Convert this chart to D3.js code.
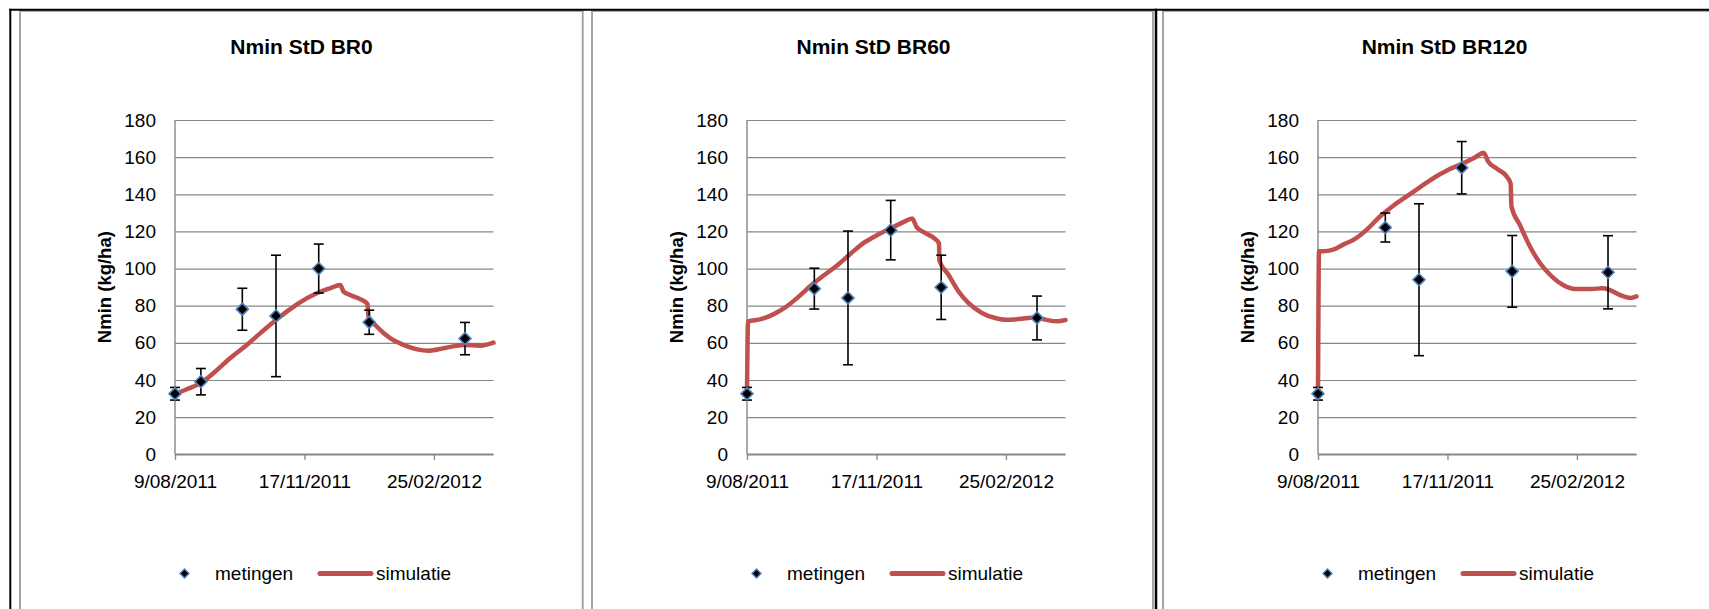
<!DOCTYPE html>
<html>
<head>
<meta charset="utf-8">
<script src="https://cdn.jsdelivr.net/npm/d3@7"></script>
<style>
  html, body { margin: 0; padding: 0; background: #ffffff; }
  svg { display: block; font-family: "Liberation Sans", Arial, sans-serif; }
</style>
</head>
<body>
<svg id="chart" width="1709" height="609"></svg>
<script>
// ---- data ----------------------------------------------------------------
const startDate = "2011-08-09";
const endDate = "2012-04-11";
const xTickDates = ["2011-08-09", "2011-11-17", "2012-02-25"];
const yTicks = [0, 20, 40, 60, 80, 100, 120, 140, 160, 180];

const panelTitles = ["Nmin StD BR0", "Nmin StD BR60", "Nmin StD BR120"];
const legendLabels = ["metingen", "simulatie"];
const yAxisTitle = "Nmin (kg/ha)";

// sampling dates of the soil measurements
const measDates = ["2011-08-09", "2011-08-29", "2011-09-30", "2011-10-26",
                   "2011-11-28", "2012-01-06", "2012-03-20"];

// measured Nmin (kg/ha) and standard deviation per treatment
const measBR0   = [32.6, 39.1, 78.1, 74.5, 100.0, 71.1, 62.3];
const errBR0    = [3.4, 7.1, 11.3, 32.7, 13.2, 6.5, 8.7];
const measBR60  = [32.6, null, 89.2, 84.2, 120.7, 89.9, 73.4];
const errBR60   = [3.4, null, 11.0, 36.0, 16.0, 17.3, 11.8];
const measBR120 = [32.6, null, 122.1, 94.0, 154.3, 98.5, 98.0];
const errBR120  = [3.4, null, 7.8, 40.9, 14.1, 19.3, 19.7];

// simulated Nmin: days after 9/08/2011 and value (kg/ha)
const simDaysBR0 = [0, 9, 19.3, 29.6, 42.5, 55.4, 65.7, 78, 86.3, 95.4, 109.5, 119.8,
                    127.6, 130.2, 135.3, 144.3, 148.7, 149.5, 156, 166.2, 176.5, 186.9,
                    195.9, 207.5, 222.9, 235.8, 246];
const simBR0 = [32.5, 35, 38.2, 43.6, 51.7, 58.9, 65.1, 72.3, 76.8, 81.3, 86.7, 89.4,
                91.2, 87.6, 85.8, 83.1, 80.9, 74.1, 68.7, 62.5, 58.9, 56.5,
                55.8, 57.1, 58.9, 58.5, 60.1];

const simDaysBR60 = [0, 0.8, 3.1, 10.9, 19.9, 29, 39.3, 49.6, 60, 70.3, 80.6, 91, 101.3,
                     111.6, 120.7, 127.6, 131, 137.5, 145.2, 148.3, 148.6, 155.6, 163.3,
                     171, 181.4, 191.7, 199.5, 209.8, 222.7, 230.5, 239.5, 246];
const simBR60 = [32.5, 71.6, 71.9, 72.8, 75.2, 78.8, 84.5, 91, 96.7, 102.1, 108.4, 114.2, 118.3,
                 121.9, 125, 127, 122.3, 119.2, 116, 113.5, 104.3, 96.7, 87.8,
                 81.5, 76.1, 73.4, 72.5, 72.8, 73.7, 72.5, 71.6, 72.3];

const simDaysBR120 = [0, 0.8, 3.9, 11.7, 19.5, 28.6, 37.7, 48.1, 58.4, 68.8, 79.2, 89.6, 100,
                      110.4, 120.8, 128, 131.2, 139, 145.5, 148.8, 149.4, 155.8, 163.6,
                      171.4, 180.5, 189.6, 198.7, 211.7, 219.5, 224.7, 232.5, 241.6, 246];
const simBR120 = [32.5, 109.3, 109.3, 110.2, 112.9, 116, 121, 128.2, 134, 139, 144, 148.9, 153,
                  156.1, 159.7, 162.4, 157.9, 153.4, 149.8, 145.8, 133.6, 123.7, 112,
                  103, 95.8, 91, 89, 89, 89.4, 88.7, 86, 84.2, 85];

// ---- layout --------------------------------------------------------------
const panelLefts = [20, 592, 1163];
const panelWidths = [562.7, 561, 563];
const plot = { left: 155, right: 473.5, top: 120, bottom: 454.3 };

const parseDate = d3.utcParse("%Y-%m-%d");
const fmtDate = d3.utcFormat("%-d/%m/%Y");
const t0 = parseDate(startDate);
const DAY = 864e5;

const panels = [
  { title: panelTitles[0], meas: measBR0, err: errBR0, simDays: simDaysBR0, sim: simBR0 },
  { title: panelTitles[1], meas: measBR60, err: errBR60, simDays: simDaysBR60, sim: simBR60 },
  { title: panelTitles[2], meas: measBR120, err: errBR120, simDays: simDaysBR120, sim: simBR120 }
];

const svg = d3.select("#chart");
const gridColor = "#878787";
const lineColor = "#C0504D";
const markerStroke = "#4F81BD";

const x = d3.scaleUtc()
  .domain([t0, parseDate(endDate)])
  .range([plot.left, plot.right]);
const y = d3.scaleLinear()
  .domain([0, 180])
  .range([plot.bottom, plot.top]);

const diamond = d3.symbol().type(d3.symbolSquare).size(72)();

panels.forEach((p, i) => {
  const g = svg.append("g").attr("transform", `translate(${panelLefts[i]},0)`);

  // chart area border
  g.append("rect")
    .attr("x", 0).attr("y", 11)
    .attr("width", panelWidths[i]).attr("height", 700)
    .attr("fill", "#ffffff")
    .attr("stroke", "#9c9c9c")
    .attr("stroke-width", 1.8);

  // title
  g.append("text")
    .attr("x", 281.5).attr("y", 53.5)
    .attr("text-anchor", "middle")
    .attr("font-size", 21).attr("font-weight", "bold")
    .attr("fill", "#000")
    .text(p.title);

  // y axis with horizontal gridlines
  const yAxis = g.append("g")
    .attr("transform", `translate(${plot.left},0)`)
    .call(d3.axisLeft(y).tickValues(yTicks).tickSize(-(plot.right - plot.left)).tickPadding(19));
  yAxis.select(".domain").remove();
  yAxis.selectAll(".tick line").attr("stroke", gridColor).attr("stroke-width", 1.2);
  yAxis.selectAll(".tick text")
    .attr("font-size", 19).attr("fill", "#000")
    .attr("font-family", "\"Liberation Sans\", Arial, sans-serif");

  g.append("line")
    .attr("x1", plot.left).attr("x2", plot.left)
    .attr("y1", plot.top).attr("y2", plot.bottom)
    .attr("stroke", gridColor).attr("stroke-width", 1.4);

  // x axis
  const xAxis = g.append("g")
    .attr("transform", `translate(0,${plot.bottom})`)
    .call(d3.axisBottom(x)
      .tickValues(xTickDates.map(parseDate))
      .tickFormat(fmtDate)
      .tickSize(5.5)
      .tickPadding(15));
  xAxis.select(".domain")
    .attr("d", `M${plot.left},0H${plot.right}`)
    .attr("stroke", gridColor).attr("stroke-width", 1.4);
  xAxis.selectAll(".tick line").attr("stroke", gridColor).attr("stroke-width", 1.4);
  xAxis.selectAll(".tick text")
    .attr("font-size", 19).attr("fill", "#000")
    .attr("font-family", "\"Liberation Sans\", Arial, sans-serif");

  // y axis title
  g.append("text")
    .attr("transform", `translate(91,${(plot.top + plot.bottom) / 2}) rotate(-90)`)
    .attr("text-anchor", "middle")
    .attr("font-size", 18.5).attr("font-weight", "bold")
    .attr("fill", "#000")
    .text(yAxisTitle);

  // simulation line
  const simPts = p.simDays.map((d, k) => ({ date: new Date(t0.getTime() + d * DAY), v: p.sim[k] }));
  g.append("path")
    .datum(simPts)
    .attr("fill", "none")
    .attr("stroke", lineColor)
    .attr("stroke-width", 4.5)
    .attr("stroke-linejoin", "round")
    .attr("stroke-linecap", "round")
    .attr("d", d3.line().x(d => x(d.date)).y(d => y(d.v)).curve(d3.curveMonotoneX));

  // measurements with error bars
  const meas = measDates
    .map((d, k) => ({ date: parseDate(d), v: p.meas[k], e: p.err[k] }))
    .filter(d => d.v !== null);

  const eb = g.append("g").attr("stroke", "#000").attr("stroke-width", 1.6);
  meas.forEach(d => {
    const cx = x(d.date);
    eb.append("line").attr("x1", cx).attr("x2", cx)
      .attr("y1", y(d.v - d.e)).attr("y2", y(d.v + d.e));
    eb.append("line").attr("x1", cx - 5).attr("x2", cx + 5)
      .attr("y1", y(d.v + d.e)).attr("y2", y(d.v + d.e));
    eb.append("line").attr("x1", cx - 5).attr("x2", cx + 5)
      .attr("y1", y(d.v - d.e)).attr("y2", y(d.v - d.e));
  });

  g.append("g").selectAll("path")
    .data(meas)
    .join("path")
    .attr("d", diamond)
    .attr("transform", d => `translate(${x(d.date)},${y(d.v)}) rotate(45)`)
    .attr("fill", "#000")
    .attr("stroke", markerStroke)
    .attr("stroke-width", 1.6);

  // legend
  const lg = g.append("g");
  lg.append("path")
    .attr("d", d3.symbol().type(d3.symbolSquare).size(40)())
    .attr("transform", "translate(164.5,573.5) rotate(45)")
    .attr("fill", "#000").attr("stroke", markerStroke).attr("stroke-width", 1.4);
  lg.append("text")
    .attr("x", 195).attr("y", 573.5).attr("dy", "0.35em")
    .attr("font-size", 19).attr("fill", "#000")
    .text(legendLabels[0]);
  lg.append("line")
    .attr("x1", 300).attr("x2", 351).attr("y1", 573.5).attr("y2", 573.5)
    .attr("stroke", lineColor).attr("stroke-width", 5).attr("stroke-linecap", "round");
  lg.append("text")
    .attr("x", 356).attr("y", 573.5).attr("dy", "0.35em")
    .attr("font-size", 19).attr("fill", "#000")
    .text(legendLabels[1]);
});

// surrounding table rules
svg.append("line").attr("x1", 9.3).attr("x2", 1709).attr("y1", 9.7).attr("y2", 9.7)
  .attr("stroke", "#000").attr("stroke-width", 2);
svg.append("line").attr("x1", 10.3).attr("x2", 10.3).attr("y1", 8.7).attr("y2", 609)
  .attr("stroke", "#000").attr("stroke-width", 2);
svg.append("line").attr("x1", 1156).attr("x2", 1156).attr("y1", 8.7).attr("y2", 609)
  .attr("stroke", "#000").attr("stroke-width", 2.5);
</script>
</body>
</html>
